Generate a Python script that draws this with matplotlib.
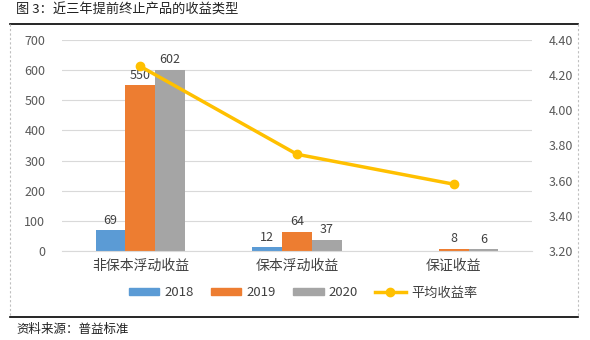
import matplotlib
matplotlib.use("Agg")
import matplotlib.pyplot as plt
import numpy as np
from matplotlib.lines import Line2D

plt.rcParams['font.family'] = ['Noto Sans CJK SC', 'DejaVu Sans']

categories = ["非保本浮动收益", "保本浮动收益", "保证收益"]
years = ["2018", "2019", "2020"]
v2018 = [69, 12, 0]
v2019 = [550, 64, 8]
v2020 = [602, 37, 6]
avg_rate = [4.25, 3.75, 3.58]
colors = ["#5B9BD5", "#ED7D31", "#A5A5A5"]
line_color = "#FFC000"

fig = plt.figure(figsize=(5.9, 3.4), dpi=100)
W, H = 590, 340
ax = fig.add_axes([62/W, 1-251/H, 470/W, 211/H])
ax2 = ax.twinx()

x = np.arange(len(categories))
bw = 0.19
series = [v2018, v2019, v2020]
for i, (vals, c, lab) in enumerate(zip(series, colors, years)):
    pos = x + (i-1)*bw
    ax.bar(pos, vals, width=bw, color=c, label=lab, zorder=2)
    for p, v in zip(pos, vals):
        if v > 0:
            ax.text(p, v + 12, f"{v}", ha='center', va='bottom', fontsize=9, color='#404040', zorder=5)

ax.set_ylim(0, 700)
ax.set_yticks(range(0, 701, 100))
ax.set_xlim(-0.5, 2.5)
ax.set_xticks(x)
ax.set_xticklabels(categories, fontsize=10, color='#404040')
ax.grid(axis='y', color='#D9D9D9', linewidth=0.8, zorder=0)
ax.set_axisbelow(True)
for s in ['top', 'left', 'right']:
    ax.spines[s].set_visible(False)
ax.spines['bottom'].set_color('#D9D9D9')
ax.tick_params(axis='y', length=0, labelsize=9, labelcolor='#595959', pad=12)
ax.tick_params(axis='x', length=0, pad=6)

ax2.plot(x, avg_rate, color=line_color, linewidth=2.5, marker='o', markersize=6, zorder=4)
ax2.set_ylim(3.2, 4.4)
ax2.set_yticks(np.arange(3.2, 4.41, 0.2))
ax2.set_yticklabels([f"{t:.2f}" for t in np.arange(3.2, 4.41, 0.2)])
ax2.tick_params(axis='y', length=0, labelsize=9, labelcolor='#595959', pad=12)
for s in ['top', 'left', 'right', 'bottom']:
    ax2.spines[s].set_visible(False)
ax.set_zorder(ax2.get_zorder()-1)
ax.patch.set_visible(False)

handles = [plt.Rectangle((0, 0), 1, 1, color=c) for c in colors]
handles.append(Line2D([0], [0], color=line_color, linewidth=2.5, marker='o', markersize=6))
labels = years + ["平均收益率"]
fig.legend(handles, labels, loc='center', bbox_to_anchor=(303/W, 1-293/H), ncol=4, frameon=False,
           fontsize=9.5, handlelength=2.3, handleheight=0.45, columnspacing=1.3, handletextpad=0.4,
           labelcolor='#404040')

# frame lines
fig.add_artist(Line2D([10/W, 578/W], [1-24/H, 1-24/H], color='black', linewidth=1.2))
fig.add_artist(Line2D([10/W, 578/W], [1-317/H, 1-317/H], color='black', linewidth=1.2))
fig.add_artist(Line2D([10/W, 10/W], [1-24/H, 1-317/H], color='#BFBFBF', linewidth=0.8, linestyle=(0, (2, 2))))
fig.add_artist(Line2D([578/W, 578/W], [1-24/H, 1-317/H], color='#BFBFBF', linewidth=0.8, linestyle=(0, (2, 2))))

fig.text(16/W, 1-10/H, "图 3：近三年提前终止产品的收益类型", fontsize=9.5, fontweight='medium', color='#222222', va='center', ha='left')
fig.text(16/W, 1-329/H, "资料来源：普益标准", fontsize=9, color='#222222', va='center', ha='left')

fig.savefig("out.png", dpi=100)
